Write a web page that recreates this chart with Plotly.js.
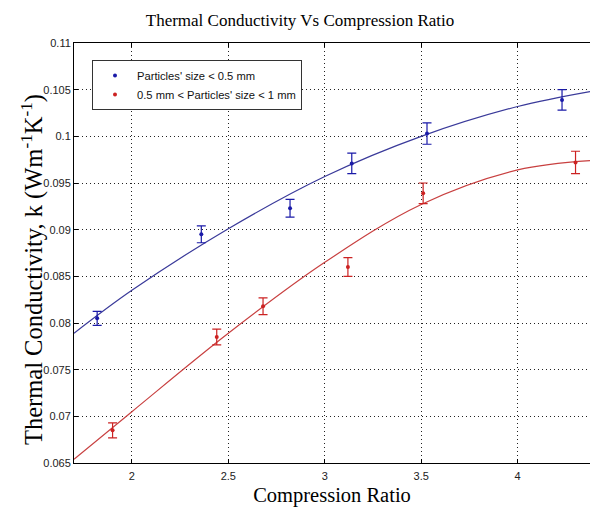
<!DOCTYPE html>
<html>
<head>
<meta charset="utf-8">
<script src="https://cdn.plot.ly/plotly-3.0.1.min.js"></script>
<style>html,body{margin:0;padding:0;background:#fff;overflow:hidden}</style>
</head>
<body>
<div id="chart" style="width:590px;height:510px"></div>
<script>
const smallX = [1.82, 2.36, 2.82, 3.14, 3.53, 4.23];
const smallY = [0.0805, 0.0895, 0.0923, 0.0971, 0.1003, 0.1039];
const smallErr = [0.00075, 0.0009, 0.00095, 0.0011, 0.00115, 0.0011];

const largeX = [1.90, 2.44, 2.68, 3.12, 3.51, 4.30];
const largeY = [0.0685, 0.0785, 0.0818, 0.0860, 0.0939, 0.0972];
const largeErr = [0.0008, 0.00085, 0.0009, 0.001, 0.0011, 0.0012];

// Fitted curves
const fitX = [1.7, 2.0, 2.5, 3.0, 3.5, 4.0, 4.375];
const smallFit = [0.0789, 0.0835, 0.0901, 0.0957, 0.1000, 0.1032, 0.1048];
const largeFit = [0.0654, 0.0705, 0.0789, 0.0865, 0.0927, 0.0964, 0.0974];

// Axis ticks
const xTicks = [2, 2.5, 3, 3.5, 4];
const xTickText = ['2', '2.5', '3', '3.5', '4'];
const yTicks = [0.065, 0.07, 0.075, 0.08, 0.085, 0.09, 0.095, 0.1, 0.105, 0.11];
const yTickText = ['0.065', '0.07', '0.075', '0.08', '0.085', '0.09', '0.095', '0.1', '0.105', '0.11'];

const names = ["Particles' size < 0.5 mm", "0.5 mm < Particles' size < 1 mm"];
const yTitle = 'Thermal Conductivity, k (Wm<sup>-1</sup>K<sup>-1</sup>)';
const blue = '#1a1aa8', red = '#cc2222';

const traces = [
  {x: fitX, y: smallFit, mode: 'lines', line: {color: '#3a3a9a', width: 1.2, shape: 'spline'}, showlegend: false, hoverinfo: 'skip'},
  {x: fitX, y: largeFit, mode: 'lines', line: {color: '#c84040', width: 1.2, shape: 'spline'}, showlegend: false, hoverinfo: 'skip'},
  {x: smallX, y: smallY, mode: 'markers', name: names[0],
   marker: {color: blue, size: 4},
   error_y: {type: 'data', array: smallErr, visible: true, color: blue, thickness: 1.2, width: 4.5}},
  {x: largeX, y: largeY, mode: 'markers', name: names[1],
   marker: {color: red, size: 4},
   error_y: {type: 'data', array: largeErr, visible: true, color: red, thickness: 1.2, width: 4.5}}
];

const layout = {
  width: 590, height: 510,
  paper_bgcolor: '#fff', plot_bgcolor: '#fff',
  margin: {l: 74, r: 0, t: 43, b: 47, autoexpand: false},
  font: {family: 'Liberation Sans, Arial, sans-serif', size: 11, color: '#222'},
  title: {text: 'Thermal Conductivity Vs Compression Ratio',
          font: {family: 'Liberation Serif, Times New Roman, serif', size: 17, color: '#000'},
          x: 300/590, xref: 'container', xanchor: 'center',
          y: 1 - 20/510, yref: 'container', yanchor: 'middle'},
  xaxis: {
    range: [1.7, 4.375], tickvals: xTicks, ticktext: xTickText,
    showline: true, linecolor: '#000', linewidth: 1, mirror: 'ticks',
    ticks: 'inside', ticklen: 4, tickcolor: '#000', ticklabelstandoff: 3,
    showgrid: true, gridcolor: '#222', griddash: '1px,3px', gridwidth: 1,
    zeroline: false,
    title: {text: 'Compression Ratio', standoff: 6,
            font: {family: 'Liberation Serif, Times New Roman, serif', size: 20.5, color: '#000'}}
  },
  yaxis: {
    range: [0.065, 0.11], tickvals: yTicks, ticktext: yTickText,
    showline: true, linecolor: '#000', linewidth: 1,
    ticks: 'inside', ticklen: 4, tickcolor: '#000',
    showgrid: true, gridcolor: '#222', griddash: '1px,3px', gridwidth: 1,
    zeroline: false
  },
  annotations: [{
    text: yTitle, textangle: -90, showarrow: false,
    xref: 'paper', x: (32 - 74) / 516, xanchor: 'center',
    yref: 'paper', y: (463 - 270) / 420, yanchor: 'middle',
    font: {family: 'Liberation Serif, Times New Roman, serif', size: 24.5, color: '#000'}
  }],
  legend: {
    x: (92 - 74) / 516, xref: 'paper', xanchor: 'left',
    y: (463 - 60) / 420, yref: 'paper', yanchor: 'top',
    bgcolor: '#fff', bordercolor: '#333', borderwidth: 1,
    font: {family: 'Liberation Sans, Arial, sans-serif', size: 11.2, color: '#111'},
    itemwidth: 34, tracegroupgap: 0
  },
  showlegend: true
};

Plotly.newPlot('chart', traces, layout, {displayModeBar: false, staticPlot: true});
</script>
</body>
</html>
